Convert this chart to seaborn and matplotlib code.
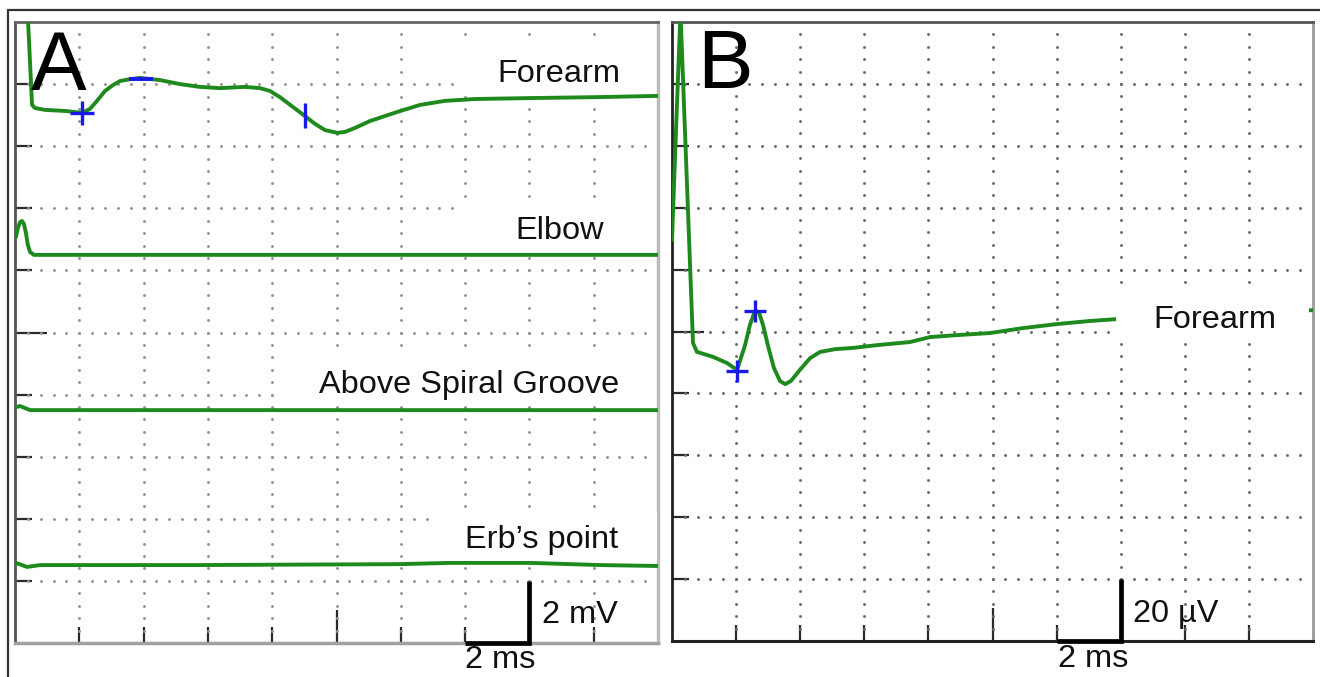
import numpy as np
import pandas as pd
import matplotlib
matplotlib.use("Agg")
import matplotlib.pyplot as plt
import seaborn as sns
from matplotlib.patches import Rectangle
from matplotlib.lines import Line2D

# ---------------- data ----------------
# Panel A: time (ms) and displayed amplitude (mV, stacked on a 2 mV/div screen)
a_forearm_t = [0.38, 0.53, 0.62, 0.93, 1.62, 2.08, 2.33, 2.55, 2.80, 3.05, 3.27, 3.58,
               3.89, 4.51, 5.13, 5.75, 6.38, 7.15, 7.62, 7.93, 8.24, 8.65, 9.02, 9.33,
               9.64, 10.02, 10.26, 10.58, 11.04, 11.88, 12.60, 13.37, 14.31, 16.02,
               18.10, 20.0]
a_forearm_v = [20.6, 17.33, 17.23, 17.17, 17.13, 17.07, 17.20, 17.46, 17.78, 17.97, 18.10,
               18.16, 18.20, 18.13, 18.00, 17.91, 17.87, 17.91, 17.87, 17.78, 17.58, 17.26,
               16.97, 16.72, 16.52, 16.43, 16.46, 16.59, 16.81, 17.10, 17.33, 17.46, 17.52,
               17.55, 17.58, 17.62]
a_elbow_t = [0.03, 0.09, 0.16, 0.22, 0.28, 0.34, 0.40, 0.47, 0.59, 6.0, 12.0, 20.0]
a_elbow_v = [13.08, 13.37, 13.56, 13.59, 13.49, 13.20, 12.82, 12.59, 12.50, 12.50, 12.50,
             12.50]
a_spiral_t = [0.03, 0.16, 0.47, 2.64, 10.0, 20.0]
a_spiral_v = [7.60, 7.63, 7.50, 7.50, 7.50, 7.50]
a_erb_t = [0.03, 0.37, 0.78, 5.75, 11.97, 13.53, 16.02, 18.2, 20.0]
a_erb_v = [2.58, 2.45, 2.51, 2.51, 2.54, 2.58, 2.58, 2.51, 2.48]

# Panel A cursor markers: (time ms, amplitude mV)
a_plus_t, a_plus_v = [2.08], [17.07]
a_hdash_t, a_hdash_v = [3.93], [18.16]
a_vdash_t, a_vdash_v = [9.02], [17.02]

a_labels = ["Forearm", "Elbow", "Above Spiral Groove", "Erb\u2019s point"]
a_label_t = [18.82, 18.32, 18.79, 18.76]
a_label_v = [18.07, 13.01, 8.05, 3.06]

# Panel B: time (ms), amplitude (µV, 20 µV/div screen)
b_forearm_t = [0.0, 0.125, 0.265, 0.655, 0.78, 1.28, 1.72, 1.90, 2.03, 2.28, 2.43, 2.59,
               2.71, 2.84, 2.99, 3.18, 3.37, 3.53, 3.71, 3.99, 4.31, 4.62, 5.09, 5.65,
               6.40, 7.43, 8.05, 8.99, 9.92, 10.95, 12.01, 13.04, 13.88, 16.47, 20.0]
b_forearm_v = [129.6, 165.1, 203.0, 96.3, 93.4, 91.8, 89.8, 88.5, 87.6, 95.6, 102.1, 106.6,
               106.3, 102.1, 95.6, 88.2, 84.0, 83.0, 84.0, 87.6, 91.4, 93.4, 94.3, 94.7,
               95.6, 96.6, 98.2, 98.9, 99.5, 101.1, 102.4, 103.4, 104.0, 105.3, 106.9]
b_plus_t = [2.03, 2.59]
b_plus_v = [87.2, 106.6]

# screen settings
n_div = 10
ms_per_div = 2
a_mv_per_div = 2
b_uv_per_div = 20

GREEN = "#1e8a1e"
BLUE = "#1a1ae6"

sns.set_theme(style="white")
plt.rcParams["font.family"] = ["Liberation Sans", "DejaVu Sans"]

fig = plt.figure(figsize=(13.2, 6.77), dpi=100)
axA = fig.add_axes([15 / 1320, 34 / 677, 643 / 1320, 621 / 677])
axB = fig.add_axes([672 / 1320, 36 / 677, 641 / 1320, 619 / 677])


def setup_screen(ax, ydiv, dot_color, spine_cols):
    xmax = n_div * ms_per_div
    ymax = n_div * ydiv
    ax.set_xlim(0, xmax)
    ax.set_ylim(0, ymax)
    ax.set_facecolor("white")
    # dotted graticule
    xmaj = np.arange(1, n_div) * ms_per_div
    ymaj = np.arange(1, n_div) * ydiv
    xs_fine = np.arange(1, n_div * 5) * ms_per_div / 5
    ys_fine = np.arange(1, n_div * 5) * ydiv / 5
    for yv in ymaj:
        ax.plot(xs_fine, np.full_like(xs_fine, yv), ls="none", marker="o", ms=2.1,
                mew=0, color=dot_color, zorder=1)
    for xv in xmaj:
        ax.plot(np.full_like(ys_fine, xv), ys_fine, ls="none", marker="o", ms=2.1,
                mew=0, color=dot_color, zorder=1)
    # ticks
    center_x = xmax / 2
    center_y = ymax / 2
    ax.set_xticks([v for v in xmaj if v != center_x])
    ax.set_xticks([center_x], minor=True)
    ax.set_yticks([v for v in ymaj if v != center_y])
    ax.set_yticks([center_y], minor=True)
    ax.tick_params(which="both", direction="in", labelbottom=False, labelleft=False,
                   bottom=True, left=True, top=False, right=False, colors="#2a2a2a",
                   width=1.6)
    ax.tick_params(axis="x", which="major", length=11.5)
    ax.tick_params(axis="x", which="minor", length=24)
    ax.tick_params(axis="y", which="major", length=12)
    ax.tick_params(axis="y", which="minor", length=23)
    for side, (c, lw) in spine_cols.items():
        ax.spines[side].set_color(c)
        ax.spines[side].set_linewidth(lw)
        ax.spines[side].set_visible(True)


setup_screen(axA, a_mv_per_div, "#959595",
             {"left": ("#555555", 2), "top": ("#666666", 2),
              "right": ("#bbbbbb", 2.5), "bottom": ("#a0a0a0", 2.5)})
setup_screen(axB, b_uv_per_div, "#6a6a6a",
             {"left": ("#222222", 2), "top": ("#555555", 2),
              "right": ("#999999", 2), "bottom": ("#222222", 2.2)})

# traces
line_kw = dict(color=GREEN, lw=2.8, sort=False, estimator=None, zorder=3,
               solid_joinstyle="round", solid_capstyle="round")
for t, v in [(a_forearm_t, a_forearm_v), (a_elbow_t, a_elbow_v),
             (a_spiral_t, a_spiral_v), (a_erb_t, a_erb_v)]:
    df = pd.DataFrame({"t": t, "v": v})
    sns.lineplot(data=df, x="t", y="v", ax=axA, **line_kw)
dfb = pd.DataFrame({"t": b_forearm_t, "v": b_forearm_v})
sns.lineplot(data=dfb, x="t", y="v", ax=axB, **line_kw)

# cursor markers
axA.plot(a_plus_t, a_plus_v, ls="none", marker="+", ms=17, mew=2.4, color=BLUE, zorder=4)
axA.plot(a_hdash_t, a_hdash_v, ls="none", marker="_", ms=17, mew=2.8, color=BLUE, zorder=4)
axA.plot(a_vdash_t, a_vdash_v, ls="none", marker="|", ms=18, mew=2.4, color=BLUE, zorder=4)
axB.plot(b_plus_t, b_plus_v, ls="none", marker="+", ms=16, mew=2.4, color=BLUE, zorder=4)

# white label masks (screen annotation boxes)
a_boxes = [(13.75, 17.75, 6.2, 1.6), (13.85, 12.66, 6.1, 1.6),
           (8.24, 7.67, 11.7, 1.75), (12.91, 2.64, 7.05, 1.58)]
for (x0, y0, w, h) in a_boxes:
    axA.add_patch(Rectangle((x0, y0), w, h, facecolor="white", edgecolor="none", zorder=5))
axB.add_patch(Rectangle((13.86, 97.3), 6.0, 16.8, facecolor="white", edgecolor="none",
                        zorder=5))

FS = 23.4
for lab, tx, ty in zip(a_labels, a_label_t, a_label_v):
    axA.text(tx, ty, lab, ha="right", va="baseline", fontsize=FS, color="#111111", zorder=6)
axB.text(15.01, 101.1, "Forearm", ha="left", va="baseline", fontsize=FS, color="#111111",
         zorder=6)

# panel letters
axA.text(0.5, 17.81, "A", ha="left", va="baseline", fontsize=60, color="black", zorder=6)
axB.text(0.78, 178.7, "B", ha="left", va="baseline", fontsize=60, color="black", zorder=6)

# scale bars
axA.plot([14, 16, 16], [0, 0, a_mv_per_div], color="black", lw=3.4, clip_on=False,
         solid_joinstyle="miter", solid_capstyle="butt", zorder=7)
axA.text(16.39, 0.644, "2 mV", ha="left", va="baseline", fontsize=FS, color="#111111",
         zorder=7)
axA.text(13.99, -0.80, "2 ms", ha="left", va="baseline", fontsize=FS, color="#111111",
         zorder=7, clip_on=False)
axB.plot([12, 14, 14], [0, 0, b_uv_per_div], color="black", lw=3.4, clip_on=False,
         solid_joinstyle="miter", solid_capstyle="butt", zorder=7)
axB.text(14.38, 6.14, "20 \u00b5V", ha="left", va="baseline", fontsize=FS, color="#111111",
         zorder=7)
axB.text(12.04, -8.4, "2 ms", ha="left", va="baseline", fontsize=FS, color="#111111",
         zorder=7, clip_on=False)

for ax in (axA, axB):
    ax.set_xlabel("")
    ax.set_ylabel("")
    ax.legend_ = None

# outer frame (top and left)
fig.add_artist(Line2D([8 / 1320, 1.0], [1 - 10 / 677, 1 - 10 / 677], color="#333333", lw=1.6))
fig.add_artist(Line2D([8 / 1320, 8 / 1320], [0, 1 - 10 / 677], color="#333333", lw=1.6))

fig.savefig("out.png", dpi=100)
